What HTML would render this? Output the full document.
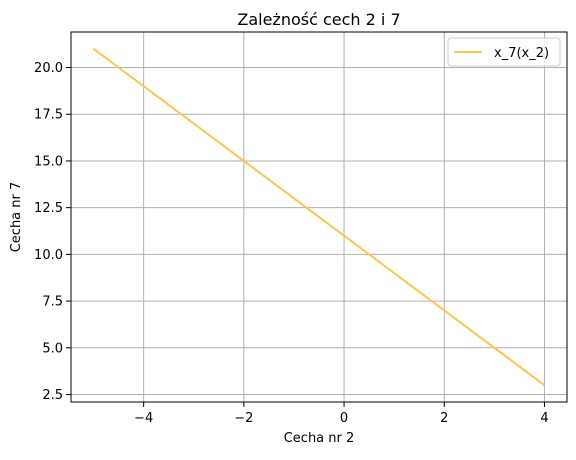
<!DOCTYPE html>
<html><head><meta charset="utf-8"><style>
body{margin:0;background:#fff;font-family:"Liberation Sans","DejaVu Sans",sans-serif;}
</style></head><body>
<svg id="chart" width="576" height="455" xmlns="http://www.w3.org/2000/svg" font-family="DejaVu Sans, Liberation Sans, sans-serif"></svg>
<script>
const xTicks=[-4,-2,0,2,4];
const yTicks=[2.5,5.0,7.5,10.0,12.5,15.0,17.5,20.0];
const xValues=[-5,-4,-3,-2,-1,0,1,2,3,4];
const yValues=[21,19,17,15,13,11,9,7,5,3];
const L=71,R=567,T=32,B=402;
const xMin=-5.45,xMax=4.45,yMin=2.1,yMax=21.9;
const sx=v=>L+(v-xMin)/(xMax-xMin)*(R-L);
const sy=v=>B-(v-yMin)/(yMax-yMin)*(B-T);
const svg=document.getElementById('chart');
const NS='http://www.w3.org/2000/svg';
function mk(tag,attrs,text){const e=document.createElementNS(NS,tag);for(const k in attrs)e.setAttribute(k,attrs[k]);if(text!==undefined)e.textContent=text;svg.appendChild(e);return e;}
xTicks.forEach(t=>{const x=sx(t);
 let g=mk('line',{x1:x,x2:x,y1:T,y2:B,stroke:'#b0b0b0','stroke-width':1});
 
 
 mk('line',{x1:x,x2:x,y1:B,y2:B+5,stroke:'#000','stroke-width':1});
 let l=mk('text',{x:x,y:B+20,'font-size':13,'text-anchor':'middle'},(t<0?'\u2212'+(-t):t));
 
 
});
yTicks.forEach(t=>{const y=sy(t);
 let g=mk('line',{x1:L,x2:R,y1:y,y2:y,stroke:'#b0b0b0','stroke-width':1});
 
 
 mk('line',{x1:L-5,x2:L,y1:y,y2:y,stroke:'#000','stroke-width':1});
 let l=mk('text',{x:L-8,y:y+4.5,'font-size':13,'text-anchor':'end'},t.toFixed(1));
 
 
});
const pts=xValues.map((x,i)=>sx(x)+','+sy(yValues[i])).join(' ');
let line=mk('polyline',{points:pts,fill:'none',stroke:'#ffc44f','stroke-width':2});


let fr=mk('rect',{x:L,y:T,width:R-L,height:B-T,fill:'none',stroke:'#000','stroke-width':1});


let ti=mk('text',{x:(L+R)/2,y:T-7,'font-size':16,'text-anchor':'middle'},'Zależność cech 2 i 7');


let xl=mk('text',{x:(L+R)/2,y:442,'font-size':13,'text-anchor':'middle'},'Cecha nr 2');


let yl=mk('text',{x:20,y:(T+B)/2,'font-size':13,'text-anchor':'middle',transform:'rotate(-90 20 '+(T+B)/2+')'},'Cecha nr 7');


let lg=mk('rect',{x:448,y:38,width:112,height:28,rx:3,fill:'#fff','fill-opacity':0.8,stroke:'#ccc','stroke-width':1});


mk('line',{x1:454,x2:482,y1:52,y2:52,stroke:'#ffc44f','stroke-width':2});
let lt=mk('text',{x:494,y:57,'font-size':13},'x_7(x_2)');


</script>
</body></html>
